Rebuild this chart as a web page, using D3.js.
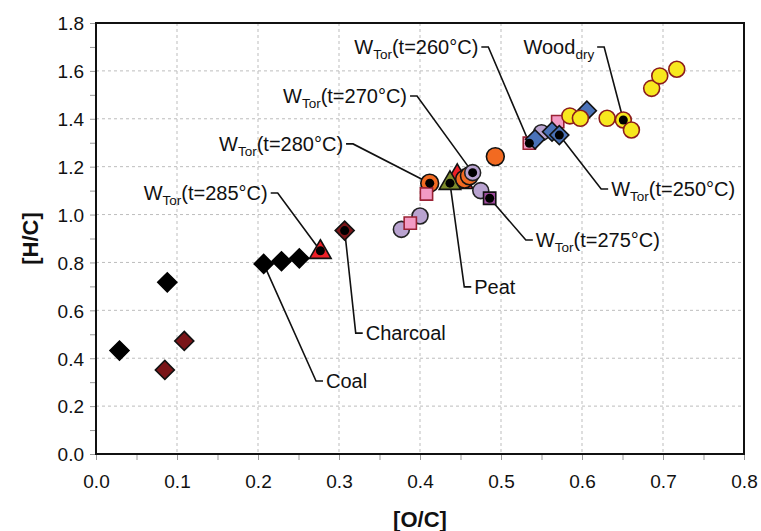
<!DOCTYPE html>
<html>
<head>
<meta charset="utf-8">
<script src="https://cdn.jsdelivr.net/npm/d3@7"></script>
<style>
  body { margin: 0; background: #fff; }
  svg { font-family: "Liberation Sans", Arial, sans-serif; }
</style>
</head>
<body>
<script>
var w = 761;
var h = 531;

var xTicks = [0.0, 0.1, 0.2, 0.3, 0.4, 0.5, 0.6, 0.7, 0.8];
var yTicks = [0.0, 0.2, 0.4, 0.6, 0.8, 1.0, 1.2, 1.4, 1.6, 1.8];

// [O/C], [H/C]
var coal = [[0.029, 0.432], [0.088, 0.717], [0.207, 0.794], [0.229, 0.805], [0.251, 0.817]];
var charcoal = [[0.085, 0.351], [0.109, 0.472], [0.307, 0.933]];
var redTri = [[0.446, 1.160], [0.452, 1.135], [0.277, 0.843]];
var peat = [[0.437, 1.131]];
var orange = [[0.412, 1.131], [0.455, 1.148], [0.461, 1.162], [0.493, 1.242]];
var lavender = [[0.550, 1.342], [0.465, 1.175], [0.475, 1.100], [0.400, 0.994], [0.377, 0.938]];
var pink = [[0.535, 1.298], [0.570, 1.388], [0.408, 1.086], [0.388, 0.964]];
var purple = [[0.486, 1.068]];
var blue = [[0.542, 1.314], [0.563, 1.346], [0.572, 1.332], [0.606, 1.434]];
var wood = [[0.585, 1.412], [0.598, 1.402], [0.631, 1.402], [0.651, 1.395], [0.661, 1.353],
            [0.686, 1.527], [0.696, 1.579], [0.717, 1.607]];

var notes = [
  {main: "W", sub: "Tor", rest: "(t=260°C)", at: [0.535, 1.298], pos: [0.472, 1.700], side: "left"},
  {main: "W", sub: "Tor", rest: "(t=270°C)", at: [0.465, 1.175], pos: [0.384, 1.495], side: "left"},
  {main: "W", sub: "Tor", rest: "(t=280°C)", at: [0.412, 1.131], pos: [0.305, 1.295], side: "left"},
  {main: "W", sub: "Tor", rest: "(t=285°C)", at: [0.277, 0.849], pos: [0.212, 1.090], side: "left"},
  {main: "Wood", sub: "dry", rest: "", at: [0.651, 1.395], pos: [0.615, 1.700], side: "left"},
  {main: "W", sub: "Tor", rest: "(t=250°C)", at: [0.572, 1.332], pos: [0.636, 1.107], side: "right"},
  {main: "W", sub: "Tor", rest: "(t=275°C)", at: [0.486, 1.068], pos: [0.543, 0.894], side: "right"},
  {main: "Peat", sub: "", rest: "", at: [0.437, 1.131], pos: [0.467, 0.698], side: "right"},
  {main: "Charcoal", sub: "", rest: "", at: [0.307, 0.933], pos: [0.333, 0.505], side: "right"},
  {main: "Coal", sub: "", rest: "", at: [0.207, 0.794], pos: [0.284, 0.305], side: "right"}
];

var pL = 96, pR = 744, pT = 23, pB = 454;

var x = d3.scaleLinear().domain([0, 0.8]).range([pL, pR]);
var y = d3.scaleLinear().domain([0, 1.8]).range([pB, pT]);

var svg = d3.select("body")
            .append("svg")
              .attr("width", w)
              .attr("height", h);

// grid
svg.append("g")
   .selectAll("line")
   .data(xTicks.slice(1, -1))
   .enter()
   .append("line")
     .attr("x1", function(d) { return x(d); })
     .attr("x2", function(d) { return x(d); })
     .attr("y1", pT)
     .attr("y2", pB)
     .attr("stroke", "#bdbdbd")
     .attr("stroke-dasharray", "3,3");

svg.append("g")
   .selectAll("line")
   .data(yTicks.slice(1, -1))
   .enter()
   .append("line")
     .attr("x1", pL)
     .attr("x2", pR)
     .attr("y1", function(d) { return y(d); })
     .attr("y2", function(d) { return y(d); })
     .attr("stroke", "#bdbdbd")
     .attr("stroke-dasharray", "3,3");

// axes
var xAxis = d3.axisBottom(x)
              .tickValues(d3.range(0, 0.801, 0.05))
              .tickSize(6)
              .tickFormat(function(d) {
                var i = Math.round(d * 20);
                return i % 2 === 0 ? d3.format(".1f")(d) : "";
              });
var yAxis = d3.axisLeft(y)
              .tickValues(d3.range(0, 1.801, 0.1))
              .tickSize(6)
              .tickFormat(function(d) {
                var i = Math.round(d * 10);
                return i % 2 === 0 ? d3.format(".1f")(d) : "";
              });

var gx = svg.append("g").attr("transform", "translate(0," + pB + ")").call(xAxis);
var gy = svg.append("g").attr("transform", "translate(" + pL + ",0)").call(yAxis);

[gx, gy].forEach(function(g) {
  g.select(".domain").remove();
  g.selectAll(".tick line").attr("stroke", "#999");
  g.selectAll(".tick text")
   .attr("font-size", "19px")
   .attr("font-family", "Liberation Sans, Arial, sans-serif")
   .attr("fill", "#111");
});
gx.selectAll(".tick text").attr("dy", "1.3em");
gy.selectAll(".tick text").attr("x", -12).attr("dy", "0.36em");

svg.append("rect")
   .attr("x", pL)
   .attr("y", pT)
   .attr("width", pR - pL)
   .attr("height", pB - pT)
   .attr("fill", "none")
   .attr("stroke", "#111")
   .attr("stroke-width", 2);

svg.append("text")
   .text("[O/C]")
   .attr("x", (pL + pR) / 2)
   .attr("y", 527)
   .attr("text-anchor", "middle")
   .attr("font-size", "22px")
   .attr("font-weight", "bold")
   .attr("fill", "#111");

svg.append("text")
   .text("[H/C]")
   .attr("transform", "translate(38," + ((pT + pB) / 2) + ") rotate(-90)")
   .attr("text-anchor", "middle")
   .attr("font-size", "22px")
   .attr("font-weight", "bold")
   .attr("fill", "#111");

// leader lines (under the markers)
function leader(d) {
  var px = x(d.pos[0]), py = y(d.pos[1]);
  var s = d.side === "left" ? 1 : -1;
  return [[px + 3 * s, py], [px + 10 * s, py], [x(d.at[0]), y(d.at[1])]];
}

svg.append("g")
   .selectAll("path")
   .data(notes)
   .enter()
   .append("path")
     .attr("d", function(d) { return d3.line()(leader(d)); })
     .attr("fill", "none")
     .attr("stroke", "#111")
     .attr("stroke-width", 1.6);

// markers
var diamond = d3.symbol().type(d3.symbolSquare).size(180)();
var square = d3.symbol().type(d3.symbolSquare).size(150)();
var circle = d3.symbol().type(d3.symbolCircle).size(200)();
var bigCircle = d3.symbol().type(d3.symbolCircle).size(250)();
var triangle = d3.symbol().type(d3.symbolTriangle).size(200)();

var series = [
  {data: redTri, shape: triangle, rot: 0, fill: "#ee2027", stroke: "#111"},
  {data: peat, shape: triangle, rot: 0, fill: "#7e8c2c", stroke: "#111"},
  {data: orange, shape: bigCircle, rot: 0, fill: "#f26a21", stroke: "#111"},
  {data: lavender, shape: circle, rot: 0, fill: "#b9a3d0", stroke: "#222"},
  {data: pink, shape: square, rot: 0, fill: "#f39bc4", stroke: "#9b2335"},
  {data: purple, shape: square, rot: 0, fill: "#a04c9e", stroke: "#111"},
  {data: blue, shape: diamond, rot: 45, fill: "#4a72b8", stroke: "#111"},
  {data: wood, shape: circle, rot: 0, fill: "#f7e81e", stroke: "#8c1c1c"},
  {data: coal, shape: diamond, rot: 45, fill: "#000", stroke: "#000"},
  {data: charcoal, shape: diamond, rot: 45, fill: "#7a1518", stroke: "#111"}
];

series.forEach(function(s) {
  svg.append("g")
     .selectAll("path")
     .data(s.data)
     .enter()
     .append("path")
       .attr("d", s.shape)
       .attr("transform", function(d) {
         return "translate(" + x(d[0]) + "," + y(d[1]) + ") rotate(" + s.rot + ")";
       })
       .attr("fill", s.fill)
       .attr("stroke", s.stroke)
       .attr("stroke-width", 1.6);
});

// black centres on the labelled points
svg.append("g")
   .selectAll("circle")
   .data(notes)
   .enter()
   .append("circle")
     .attr("cx", function(d) { return x(d.at[0]); })
     .attr("cy", function(d) { return y(d.at[1]); })
     .attr("r", 4.5)
     .attr("fill", "#000");

// labels
var lab = svg.append("g")
             .selectAll("text")
             .data(notes)
             .enter()
             .append("text")
               .attr("x", function(d) { return x(d.pos[0]); })
               .attr("y", function(d) { return y(d.pos[1]) + 7; })
               .attr("text-anchor", function(d) { return d.side === "left" ? "end" : "start"; })
               .attr("font-size", "20px")
               .attr("fill", "#111");

lab.append("tspan").text(function(d) { return d.main; });
lab.append("tspan")
   .text(function(d) { return d.sub; })
   .attr("font-size", "13.5px")
   .attr("dy", 5);
lab.append("tspan")
   .text(function(d) { return d.rest; })
   .attr("dy", -5);
</script>
</body>
</html>
